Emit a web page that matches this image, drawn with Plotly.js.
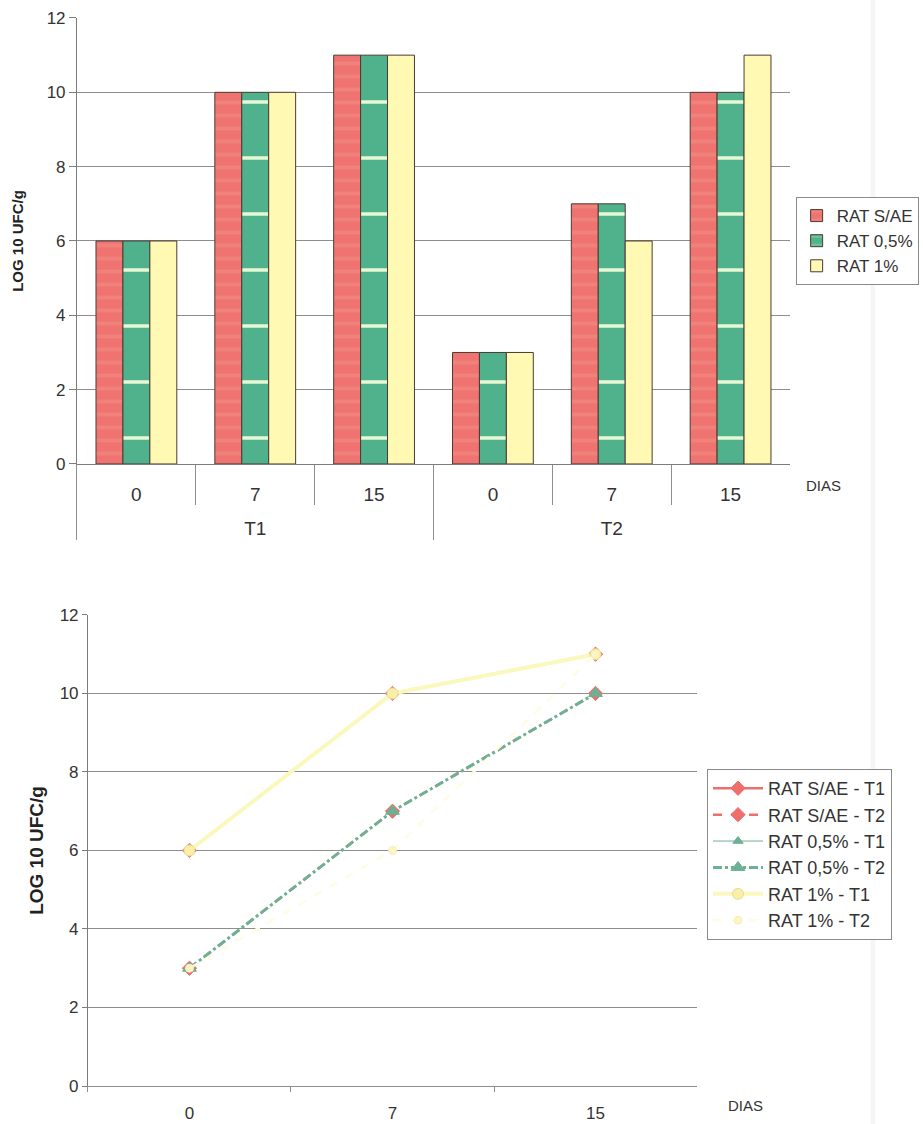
<!DOCTYPE html>
<html>
<head>
<meta charset="utf-8">
<script src="https://cdn.plot.ly/plotly-3.0.1.min.js"></script>
<style>
  html, body { margin: 0; padding: 0; background: #ffffff; }
  #chart { width: 923px; height: 1124px; }
</style>
</head>
<body>
<div id="chart"></div>
<script>
// Treatment groups and sampling days (bar chart axis)
const groups = ['T1', 'T1', 'T1', 'T2', 'T2', 'T2'];
const days = ['0', '7', '15', '0', '7', '15'];
const dayLabels = ['0', '7', '15'];

// LOG 10 UFC/g per treatment, T1 and T2
const saeT1 = [6, 10, 11];
const saeT2 = [3, 7, 10];
const r05T1 = [6, 10, 11];
const r05T2 = [3, 7, 10];
const r1T1 = [6, 10, 11];
const r1T2 = [3, 6, 11];

const barNames = ['RAT S/AE', 'RAT 0,5%', 'RAT 1%'];
const barValues = [saeT1.concat(saeT2), r05T1.concat(r05T2), r1T1.concat(r1T2)];

const lineNames = ['RAT S/AE - T1', 'RAT S/AE - T2', 'RAT 0,5% - T1', 'RAT 0,5% - T2', 'RAT 1% - T1', 'RAT 1% - T2'];
const lineValues = [saeT1, saeT2, r05T1, r05T2, r1T1, r1T2];

// Group labels sit one line below the day labels
const groupLabels = groups.map(g => '<br>' + g);

// Styles
const FONT = 'Liberation Sans, Arial, sans-serif';
const TXT = '#333333';
const GRID = '#8e8e8e';
const AXIS = '#7c7c7c';

const barStyles = [
  { color: '#EF7371', pattern: { shape: '-', bgcolor: '#EF7371', fgcolor: '#F1827A', size: 13, solidity: 0.3 } },
  { color: '#4FB28C', pattern: { shape: '-', bgcolor: '#4FB28C', fgcolor: '#E8F8D4', size: 56, solidity: 0.06 } },
  { color: '#FFF9B4' }
];

const lineStyles = [
  { color: '#EE6E6C', dash: 'solid',   width: 2.5, symbol: 'diamond',     size: 11, mcolor: '#EE6E6C', mline: '#EE6E6C' },
  { color: '#EE6E6C', dash: 'dash',    width: 2.5, symbol: 'diamond',     size: 11, mcolor: '#EE6E6C', mline: '#EE6E6C' },
  { color: '#6DB194', dash: 'solid',   width: 1,   symbol: 'triangle-up', size: 9,  mcolor: '#6DB194', mline: '#6DB194' },
  { color: '#6DB194', dash: 'dashdot', width: 3,   symbol: 'triangle-up', size: 12, mcolor: '#6DB194', mline: '#6DB194' },
  { color: '#FBF8BE', dash: 'solid',   width: 4,   symbol: 'circle',      size: 11, mcolor: '#F8F0A6', mline: '#E9DC95' },
  { color: '#FEFDE4', dash: 'dash',    width: 2.5, symbol: 'circle',      size: 8,  mcolor: '#FBF6C4', mline: '#F6EEBE' }
];

const traces = [];

// Grouped bars by treatment and day
barNames.forEach((name, i) => {
  traces.push({
    type: 'bar',
    name: name,
    x: [groupLabels, days],
    y: barValues[i],
    xaxis: 'x',
    yaxis: 'y',
    legend: 'legend',
    marker: Object.assign({}, barStyles[i], { line: { color: '#4b3b33', width: 1 } }),
    hoverinfo: 'y+name'
  });
});

// Evolution lines per treatment
lineNames.forEach((name, i) => {
  const s = lineStyles[i];
  traces.push({
    type: 'scatter',
    mode: 'lines+markers',
    name: name,
    x: dayLabels,
    y: lineValues[i],
    xaxis: 'x2',
    yaxis: 'y2',
    legend: 'legend2',
    line: { color: s.color, dash: s.dash, width: s.width },
    marker: { symbol: s.symbol, size: s.size, color: s.mcolor, line: { color: s.mline, width: 1 } }
  });
});

const yTitleFont = (size) => ({ family: FONT, size: size, color: '#222', weight: 700 });

const layout = {
  width: 923,
  height: 1124,
  margin: { l: 0, r: 0, t: 0, b: 0 },
  paper_bgcolor: '#ffffff',
  plot_bgcolor: '#ffffff',
  font: { family: FONT, color: TXT, size: 17 },
  showlegend: true,
  barmode: 'group',
  bargap: 0.32,
  bargroupgap: 0,

  xaxis: {
    domain: [0.0834, 0.8559],
    anchor: 'y',
    type: 'multicategory',
    showline: true, linecolor: AXIS, linewidth: 1,
    showgrid: false,
    ticks: 'outside', tickson: 'boundaries', ticklen: 40, tickcolor: GRID, tickwidth: 1,
    ticklabelstandoff: 13,
    showdividers: true, dividercolor: GRID, dividerwidth: 1,
    tickfont: { family: FONT, size: 19, color: TXT }
  },
  yaxis: {
    domain: [0.5872, 0.9840],
    anchor: 'x',
    range: [0, 12], dtick: 2,
    showgrid: true, gridcolor: GRID, gridwidth: 1,
    zeroline: false,
    showline: true, linecolor: AXIS, linewidth: 1,
    ticks: 'outside', ticklen: 7, tickcolor: AXIS,
    tickfont: { family: FONT, size: 17, color: TXT },
    title: { text: 'LOG 10 UFC/g', font: yTitleFont(15), standoff: 19 }
  },

  xaxis2: {
    domain: [0.0953, 0.7552],
    anchor: 'y2',
    type: 'category',
    range: [-0.5, 2.5],
    showline: true, linecolor: GRID, linewidth: 1,
    showgrid: false,
    ticks: 'outside', tickson: 'boundaries', ticklen: 5, tickcolor: GRID,
    ticklabelstandoff: 12,
    tickfont: { family: FONT, size: 17, color: TXT }
  },
  yaxis2: {
    domain: [0.0338, 0.4529],
    anchor: 'x2',
    range: [0, 12], dtick: 2,
    showgrid: true, gridcolor: GRID, gridwidth: 1,
    zeroline: false,
    showline: true, linecolor: AXIS, linewidth: 1,
    ticks: 'outside', ticklen: 5, tickcolor: AXIS,
    tickfont: { family: FONT, size: 17, color: TXT },
    title: { text: 'LOG 10 UFC/g', font: yTitleFont(19), standoff: 10 }
  },

  legend: {
    x: 0.862, y: 0.8247, xanchor: 'left', yanchor: 'top',
    bordercolor: '#8a8a8a', borderwidth: 1, bgcolor: '#ffffff',
    font: { family: FONT, size: 17, color: TXT },
    traceorder: 'normal'
  },
  legend2: {
    x: 0.766, y: 0.3158, xanchor: 'left', yanchor: 'top',
    bordercolor: '#8a8a8a', borderwidth: 1, bgcolor: '#ffffff',
    font: { family: FONT, size: 18, color: TXT },
    itemwidth: 50,
    traceorder: 'normal'
  },

  annotations: [
    { text: 'DIAS', xref: 'paper', yref: 'paper', x: 0.8917, y: 0.5685, showarrow: false,
      xanchor: 'center', yanchor: 'middle', font: { family: FONT, size: 15, color: TXT } },
    { text: 'DIAS', xref: 'paper', yref: 'paper', x: 0.8072, y: 0.0169, showarrow: false,
      xanchor: 'center', yanchor: 'middle', font: { family: FONT, size: 15, color: TXT } }
  ],

  // faint page edge on the right
  shapes: [
    { type: 'line', xref: 'paper', yref: 'paper', x0: 0.9458, x1: 0.9458, y0: 0, y1: 1,
      line: { color: 'rgba(0,0,0,0.035)', width: 5 }, layer: 'below' }
  ]
};

Plotly.newPlot('chart', traces, layout, { displayModeBar: false, staticPlot: true });
</script>
</body>
</html>
